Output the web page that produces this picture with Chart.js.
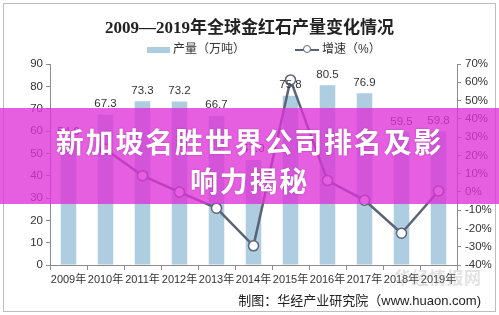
<!DOCTYPE html>
<html>
<head>
<meta charset="utf-8">
<script src="https://cdn.jsdelivr.net/npm/chart.js@4"></script>
<style>
    body { margin: 0; background: #fff; }
    .wrap { position: relative; width: 499px; height: 315px; overflow: hidden; font-family: "Liberation Sans", "Noto Sans CJK SC", sans-serif; }
    .frame { position: absolute; left: 3px; top: 3px; width: 491px; height: 307px; border: 1px solid #bdbdbd; }
    .title { position: absolute; left: 0; width: 499px; top: 13px; text-align: center; font: bold 17px "Liberation Serif", "Noto Sans CJK SC", serif; color: #222; }
    .legend { position: absolute; top: 41px; font-size: 12px; color: #333; line-height: 16px; }
    .sw-bar { display: inline-block; width: 23px; height: 6px; background: #aecde0; vertical-align: middle; margin-right: 3px; }
    .sw-line { display: inline-block; position: relative; width: 24px; height: 2px; background: #5a6478; vertical-align: middle; margin-right: 3px; }
    .sw-line i { position: absolute; left: 8px; top: -4px; width: 6px; height: 6px; border: 1.5px solid #5a6478; border-radius: 50%; background: #fff; }
    .source { position: absolute; right: 18px; top: 290px; font-size: 13px; color: #222; }
    .mark { position: absolute; left: 394px; top: 264px; font: bold 17px "Noto Sans CJK SC", sans-serif; color: rgba(150,150,150,0.28); letter-spacing: 0.5px; }
    .band { position: absolute; left: 0; top: 108px; width: 499px; height: 96px; background: rgba(222, 50, 215, 0.78); }
    .band div { position: absolute; left: 0; width: 499px; text-align: center; color: #fff; font: bold 28px "Noto Sans CJK SC", sans-serif; letter-spacing: 1.8px; text-shadow: 0 0 2px rgba(120,0,110,0.4); }
</style>
</head>
<body>
<div class="wrap">
    <canvas id="rutileChart" width="499" height="315"></canvas>
    <div class="frame"></div>
    <div class="title">2009—2019年全球金红石产量变化情况</div>
    <div class="legend" style="left:147px;"><span class="sw-bar"></span>产量（万吨）</div>
    <div class="legend" style="left:295px;"><span class="sw-line"><i></i></span>增速（%）</div>
    <div class="mark">华经情报网</div>
    <div class="source">制图：华经产业研究院（www.huaon.com)</div>
    <div class="band">
        <div style="top:13px;">新加坡名胜世界公司排名及影</div>
        <div style="top:52px;">响力揭秘</div>
    </div>
</div>
<script>
// Datos
const years = ['2009年', '2010年', '2011年', '2012年', '2013年', '2014年', '2015年', '2016年', '2017年', '2018年', '2019年'];
const output = [54.6, 67.3, 73.3, 73.2, 66.7, 47.0, 75.8, 80.5, 76.9, 59.5, 59.8];
const growth = [null, 23.3, 8.9, -0.1, -8.9, -29.5, 61.3, 6.2, -4.5, -22.6, 0.5];
const leftTicks = [0, 90, 10];
const rightTicks = [-40, 70, 10];

const textColor = '#333333';
const axisColor = '#8c8c8c';

// Etiquetas encima de las barras (dataset 1 = barras)
const barLabels = {
    id: 'barLabels',
    afterDatasetsDraw(chart) {
        const { ctx } = chart;
        const meta = chart.getDatasetMeta(1);
        ctx.save();
        ctx.font = '11.5px "Liberation Sans", Arial, sans-serif';
        ctx.fillStyle = textColor;
        ctx.textAlign = 'center';
        ctx.textBaseline = 'bottom';
        meta.data.forEach((bar, i) => {
            ctx.fillText(output[i].toFixed(1), bar.x, bar.y - 5);
        });
        ctx.restore();
    }
};

new Chart(document.getElementById('rutileChart'), {
    data: {
        labels: years,
        datasets: [{
            type: 'line',
            label: '增速（%）',
            data: growth,
            yAxisID: 'y1',
            order: 0,
            borderColor: '#5a6478',
            borderWidth: 2.5,
            pointRadius: 5,
            pointBackgroundColor: '#ffffff',
            pointBorderColor: '#5a6478',
            pointBorderWidth: 1.5,
            tension: 0
        }, {
            type: 'bar',
            label: '产量（万吨）',
            data: output,
            yAxisID: 'y',
            order: 1,
            backgroundColor: '#aecde0',
            barPercentage: 0.42,
            categoryPercentage: 1
        }]
    },
    options: {
        responsive: false,
        animation: false,
        layout: { padding: { left: 0, right: 0, top: 64, bottom: 30 } },
        plugins: { legend: { display: false }, tooltip: { enabled: false } },
        scales: {
            x: {
                offset: true,
                border: { display: true, color: axisColor, width: 1 },
                grid: { display: true, offset: true, drawOnChartArea: false, tickLength: 5, color: axisColor },
                ticks: { color: textColor, font: { size: 11, family: '"Liberation Sans", "Noto Sans CJK SC", sans-serif' }, padding: 3, maxRotation: 0, autoSkip: false },
                afterFit(axis) { axis.height = 20; }
            },
            y: {
                position: 'left',
                min: leftTicks[0], max: leftTicks[1],
                border: { display: true, color: axisColor, width: 1 },
                grid: { drawOnChartArea: false, tickLength: 4, color: axisColor },
                ticks: { stepSize: leftTicks[2], color: textColor, font: { size: 11.5, family: '"Liberation Sans", Arial, sans-serif' }, padding: 3 },
                afterFit(axis) { axis.width = 50; }
            },
            y1: {
                position: 'right',
                min: rightTicks[0], max: rightTicks[1],
                border: { display: true, color: axisColor, width: 1 },
                grid: { drawOnChartArea: false, tickLength: 4, color: axisColor },
                ticks: { stepSize: rightTicks[2], color: textColor, font: { size: 11.5, family: '"Liberation Sans", Arial, sans-serif' }, padding: 4, callback: v => v + '%' },
                afterFit(axis) { axis.width = 42; }
            }
        }
    },
    plugins: [barLabels]
});
</script>
</body>
</html>
